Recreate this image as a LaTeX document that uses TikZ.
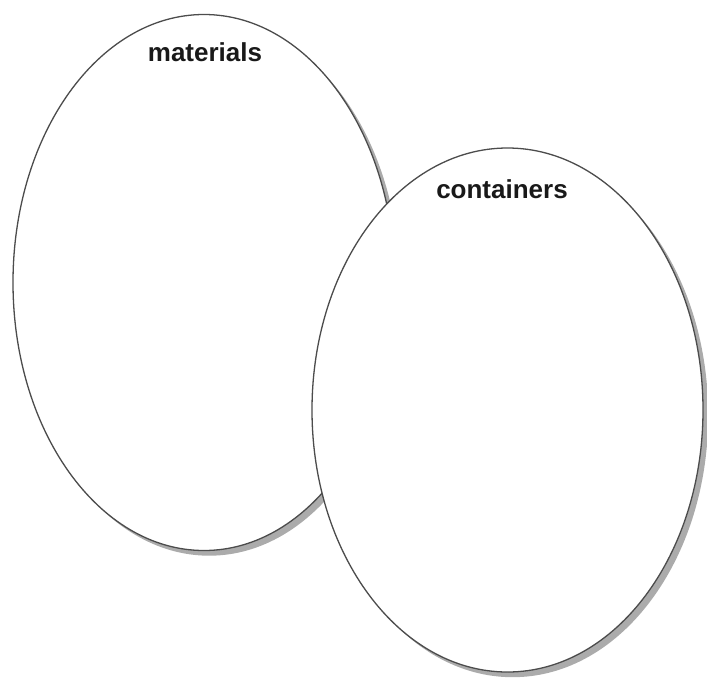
\documentclass[tikz,border=0pt]{standalone}
\usepackage{fontspec}
\setmainfont{Liberation Sans}
\usepackage{xcolor}
\usepackage{tikz}
\usetikzlibrary{positioning,shapes.geometric,shadows}

\tikzset{
  setoval/.style={ellipse, draw=black!70, line width=0.65pt, fill=white, inner sep=0pt,
    drop shadow={shadow xshift=2.6pt, shadow yshift=-2.6pt, opacity=0.6, fill=black!55}},
  setname/.style={font=\fontsize{13}{15}\selectfont\bfseries, text=black!90}
}

\begin{document}
\begin{tikzpicture}[x=0.5pt,y=-0.5pt]
\useasboundingbox (0,0) rectangle (707,681);

\node[setoval, minimum width=191pt, minimum height=268pt](materials) at (204,282.5) {};
\node[setoval, minimum width=195.5pt, minimum height=262pt](containers) at (507.5,410) {};


\node[setname](matname) at (205,52) {materials};
\node[setname](conname) at (502,189) {containers};


\end{tikzpicture}
\end{document}
